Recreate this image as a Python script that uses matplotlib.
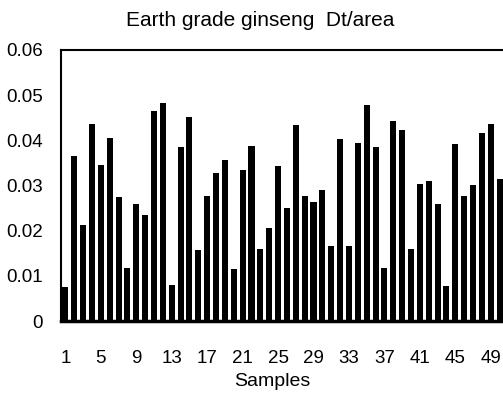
import matplotlib.pyplot as plt
import numpy as np

plt.rcParams['font.family'] = ['Liberation Sans', 'DejaVu Sans']

samples = np.arange(1, 51)
dt_area = [0.0076, 0.0365, 0.0212, 0.0437, 0.0346, 0.0405, 0.0274, 0.0118, 0.0260, 0.0235,
           0.0465, 0.0482, 0.0079, 0.0385, 0.0452, 0.0158, 0.0276, 0.0327, 0.0356, 0.0115,
           0.0335, 0.0387, 0.0159, 0.0205, 0.0344, 0.0250, 0.0434, 0.0277, 0.0264, 0.0290,
           0.0166, 0.0403, 0.0166, 0.0394, 0.0479, 0.0385, 0.0118, 0.0442, 0.0422, 0.0159,
           0.0303, 0.0309, 0.0260, 0.0078, 0.0392, 0.0276, 0.0301, 0.0416, 0.0437, 0.0314]
xticks = list(range(1, 51, 4))
yticks = [0, 0.01, 0.02, 0.03, 0.04, 0.05, 0.06]
ylabels = ['0', '0.01', '0.02', '0.03', '0.04', '0.05', '0.06']

W, H = 503, 396
fig = plt.figure(figsize=(W / 100, H / 100), dpi=100)
ax = fig.add_axes([61 / W, 1 - 321 / H, 443 / W, 271 / H])
ax.bar(samples, dt_area, width=0.68, color='black')
ax.set_xlim(0.5, 50.5)
ax.set_ylim(0, 0.06)
ax.set_xticks(xticks)
ax.set_yticks(yticks)
ax.set_yticklabels(ylabels)
ax.tick_params(axis='x', length=0, pad=21, labelsize=13.5)
ax.tick_params(axis='y', length=0, pad=13, labelsize=13.5)
ax.spines['right'].set_visible(False)
ax.spines['bottom'].set_linewidth(2.5)
ax.spines['left'].set_linewidth(1.5)
ax.spines['top'].set_linewidth(1.5)
fig.text(260 / W, 1 - 20 / H, 'Earth grade ginseng  Dt/area', fontsize=15,
         ha='center', va='center')
fig.text(272 / W, 1 - 381 / H, 'Samples', fontsize=14, ha='center', va='center')
fig.savefig('out.png', dpi=100)
